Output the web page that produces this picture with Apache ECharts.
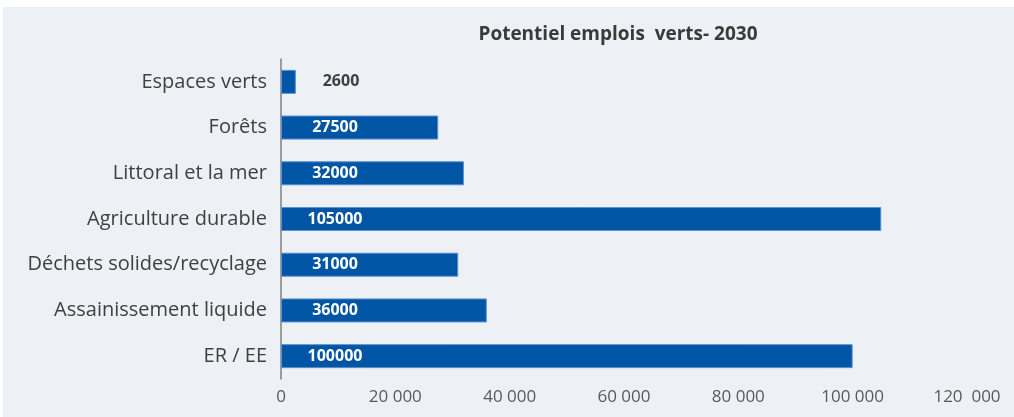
<!DOCTYPE html>
<html>
<head>
<meta charset="utf-8">
<script src="https://cdn.jsdelivr.net/npm/echarts@6/dist/echarts.min.js"></script>
<style>
  html, body { margin: 0; padding: 0; background: #ffffff; }
  #chart { position: absolute; left: 3px; top: 7px; width: 1011px; height: 410px; background: #edf0f5; }
</style>
</head>
<body>
<div id="chart"></div>
<script>
const categories = ['Espaces verts', 'Forêts', 'Littoral et la mer', 'Agriculture durable', 'Déchets solides/recyclage', 'Assainissement liquide', 'ER / EE'];
const values = [2600, 27500, 32000, 105000, 31000, 36000, 100000];
const tickLabels = ['0', '20 000', '40 000', '60 000', '80 000', '100 000', '120  000'];

const chart = echarts.init(document.getElementById('chart'));

const options = {
  animation: false,
  title: {
    text: 'Potentiel emplois  verts- 2030',
    left: 610,
    top: 13,
    textAlign: 'center',
    textStyle: {
      fontFamily: 'Open Sans',
      fontSize: 19,
      fontWeight: 'bold',
      color: '#3a3a3a'
    }
  },
  grid: {
    left: 278,
    right: 47,
    top: 52,
    bottom: 38
  },
  xAxis: {
    type: 'value',
    min: 0,
    max: 120000,
    interval: 20000,
    axisLine: { show: false },
    axisTick: { show: false },
    splitLine: { show: false },
    axisLabel: {
      margin: 10,
      fontFamily: 'Open Sans',
      fontSize: 17,
      color: '#595959',
      formatter: v => tickLabels[Math.round(v / 20000)]
    }
  },
  yAxis: {
    type: 'category',
    inverse: true,
    data: categories,
    axisLine: { show: true, lineStyle: { color: '#808080', width: 1.5 } },
    axisTick: { show: false },
    axisLabel: {
      margin: 14,
      fontFamily: 'Open Sans',
      fontSize: 20,
      color: '#404040'
    }
  },
  series: [{
    type: 'bar',
    barWidth: 24,
    data: values.map(v => ({
      value: v,
      label: v < 10000 ? { color: '#404040', position: [60, '50%'] } : {}
    })),
    itemStyle: {
      color: '#0055a5',
      borderColor: '#5b8fd0',
      borderWidth: 1
    },
    label: {
      show: true,
      position: [54, '50%'],
      align: 'center',
      verticalAlign: 'middle',
      fontFamily: 'Open Sans',
      fontSize: 16,
      fontWeight: 'bold',
      color: '#ffffff'
    }
  }]
};

chart.setOption(options);
</script>
</body>
</html>
